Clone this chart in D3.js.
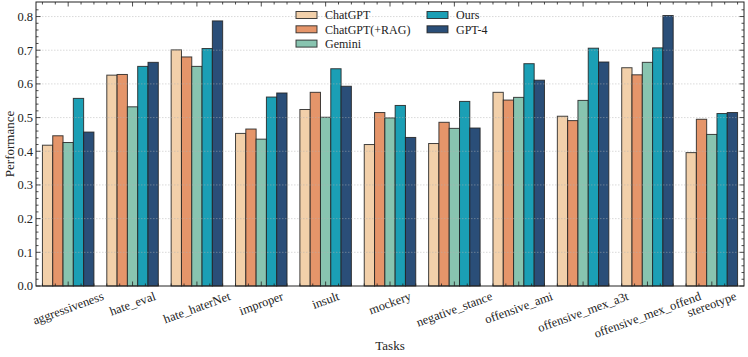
<!DOCTYPE html>
<html lang="en">
<head>
  <meta charset="UTF-8">
  <title>Performance by task</title>
  <script src="https://d3js.org/d3.v7.min.js"></script>
  <style>
    body { margin: 0; background: white; }
    svg { display: block; font-family: "Liberation Serif", "DejaVu Serif", serif; }
  </style>
</head>
<body>
  <svg width="748" height="357"></svg>
  <script>
    const tasks = ["aggressiveness", "hate_eval", "hate_haterNet", "improper", "insult", "mockery",
      "negative_stance", "offensive_ami", "offensive_mex_a3t", "offensive_mex_offend", "stereotype"];
    const models = ["ChatGPT", "ChatGPT(+RAG)", "Gemini", "Ours", "GPT-4"];
    const colors = ["#f2d0aa", "#e5956a", "#88c4b0", "#1b9fb5", "#2a4e78"];

    const chatgpt = [0.418, 0.626, 0.701, 0.453, 0.524, 0.420, 0.423, 0.575, 0.504, 0.648, 0.396];
    const chatgptRag = [0.446, 0.628, 0.680, 0.466, 0.575, 0.515, 0.486, 0.552, 0.491, 0.627, 0.495];
    const gemini = [0.426, 0.532, 0.652, 0.436, 0.501, 0.499, 0.468, 0.560, 0.551, 0.664, 0.450];
    const ours = [0.557, 0.652, 0.705, 0.561, 0.645, 0.536, 0.548, 0.660, 0.706, 0.707, 0.512];
    const gpt4 = [0.457, 0.664, 0.787, 0.573, 0.593, 0.441, 0.469, 0.611, 0.665, 0.803, 0.515];
    const series = [chatgpt, chatgptRag, gemini, ours, gpt4];

    const yTicks = [0, 0.1, 0.2, 0.3, 0.4, 0.5, 0.6, 0.7, 0.8];

    const svg = d3.select("svg");
    const pl = 36, pr = 744, pt = 2, pb = 286;
    const barW = 0.16;

    const x = d3.scaleLinear().domain([-0.5, tasks.length - 0.5]).range([pl, pr]);
    const y = d3.scaleLinear().domain([0, d3.max(gpt4) * 1.05]).range([pb, pt]);

    // bars
    series.forEach((vals, s) => {
      svg.append("g").selectAll("rect")
        .data(vals)
        .enter().append("rect")
        .attr("x", (d, i) => x(i + (s - 2) * barW - barW / 2))
        .attr("y", d => y(d))
        .attr("width", x(barW) - x(0))
        .attr("height", d => y(0) - y(d))
        .attr("fill", colors[s])
        .attr("stroke", "#222")
        .attr("stroke-opacity", 0.85)
        .attr("stroke-width", 1);
    });

    // grid above bars
    svg.append("g").selectAll("line")
      .data(yTicks.slice(1))
      .enter().append("line")
      .attr("x1", pl).attr("x2", pr)
      .attr("y1", d => y(d)).attr("y2", d => y(d))
      .attr("stroke", "#b0b0b0")
      .attr("stroke-opacity", 0.6)
      .attr("stroke-width", 0.8)
      .attr("stroke-dasharray", "1.5,1.5");

    // frame
    svg.append("rect")
      .attr("x", pl).attr("y", pt)
      .attr("width", pr - pl).attr("height", pb - pt)
      .attr("fill", "none").attr("stroke", "#222").attr("stroke-width", 1);

    // ticks, inward on all sides
    const ticks = svg.append("g").attr("stroke", "#222").attr("stroke-width", 0.8);
    const yMinor = d3.range(0, 0.84, 0.02);
    yMinor.forEach(v => {
      const major = Math.abs(v * 10 - Math.round(v * 10)) < 1e-6;
      const len = major ? 4.5 : 2.5;
      ticks.append("line").attr("x1", pl).attr("x2", pl + len).attr("y1", y(v)).attr("y2", y(v));
      ticks.append("line").attr("x1", pr).attr("x2", pr - len).attr("y1", y(v)).attr("y2", y(v));
    });
    const xMinor = d3.range(-0.4, tasks.length - 0.5, 0.2);
    xMinor.forEach(v => {
      const major = Math.abs(v - Math.round(v)) < 1e-6;
      const len = major ? 4.5 : 2.5;
      ticks.append("line").attr("x1", x(v)).attr("x2", x(v)).attr("y1", pb).attr("y2", pb - len);
      ticks.append("line").attr("x1", x(v)).attr("x2", x(v)).attr("y1", pt).attr("y2", pt + len);
    });

    // y tick labels
    svg.append("g").selectAll("text")
      .data(yTicks)
      .enter().append("text")
      .attr("x", pl - 3)
      .attr("y", d => y(d))
      .attr("dy", "0.35em")
      .attr("text-anchor", "end")
      .attr("font-size", "12.5px")
      .attr("fill", "#222")
      .text(d => d.toFixed(1));

    // x tick labels, rotated 20deg, bbox centred under tick
    const ang = 20 * Math.PI / 180;
    svg.append("g").selectAll("text")
      .data(tasks)
      .enter().append("text")
      .attr("font-size", "12.5px")
      .attr("fill", "#222")
      .attr("text-anchor", "middle")
      .attr("dominant-baseline", "central")
      .text(d => d)
      .each(function (d, i) {
        const L = this.getComputedTextLength();
        const h = 10;
        const bh = L * Math.sin(ang) + h * Math.cos(ang);
        d3.select(this).attr("transform", `translate(${x(i)},${291 + bh / 2}) rotate(-20)`);
      });

    // axis titles
    svg.append("text")
      .attr("transform", `translate(9,${(pt + pb) / 2}) rotate(-90)`)
      .attr("text-anchor", "middle")
      .attr("dominant-baseline", "central")
      .attr("font-size", "13px")
      .attr("fill", "#222")
      .text("Performance");
    svg.append("text")
      .attr("x", (pl + pr) / 2)
      .attr("y", 350)
      .attr("text-anchor", "middle")
      .attr("font-size", "13px")
      .attr("fill", "#222")
      .text("Tasks");

    // legend, two columns
    const legend = svg.append("g");
    models.forEach((m, i) => {
      const col = i < 3 ? 0 : 1;
      const row = i < 3 ? i : i - 3;
      const gx = col === 0 ? 296 : 427;
      const gy = 15 + row * 14.3;
      legend.append("rect")
        .attr("x", gx).attr("y", gy - 3.5)
        .attr("width", 21).attr("height", 7)
        .attr("fill", colors[i])
        .attr("stroke", "#222").attr("stroke-opacity", 0.85).attr("stroke-width", 1);
      legend.append("text")
        .attr("x", gx + 29).attr("y", gy)
        .attr("dy", "0.35em")
        .attr("font-size", "12px")
        .attr("fill", "#222")
        .text(m);
    });
  </script>
</body>
</html>
